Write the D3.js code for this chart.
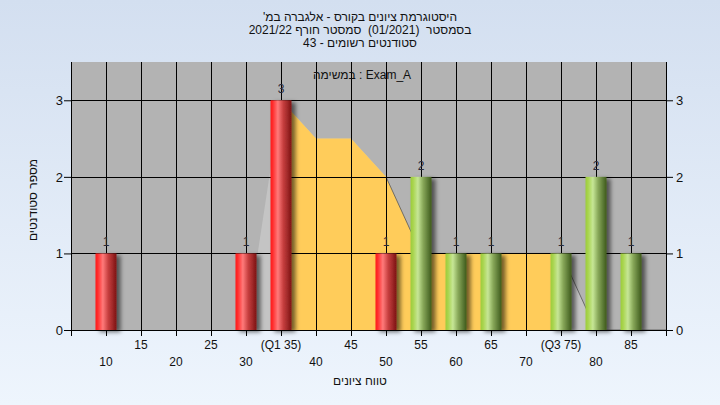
<!DOCTYPE html>
<html><head><meta charset="utf-8">
<script src="https://cdn.jsdelivr.net/npm/d3@7/dist/d3.min.js"></script>
<style>
body{margin:0;background:#e4edf8}
svg{display:block;font-family:"Liberation Sans",Arial,sans-serif}
</style>
</head><body>
<svg id="chart" width="720" height="405"></svg>
<script>
// ---- data ----
const titleLines = ["היסטוגרמת ציונים בקורס - אלגברה במ'", "בסמסטר  (01/2021)  סמסטר חורף 2021/22", "סטודנטים רשומים - 43"];
const legendText = "במשימה : Exam_A";
const xAxisTitle = "טווח ציונים";
const yAxisTitle = "מספר סטודנטים";
const binCenters = [10, 15, 20, 25, 30, 35, 40, 45, 50, 55, 60, 65, 70, 75, 80, 85];
const counts     = [1,  0,  0,  0,  1,  3,  0,  0,  1,  2,  1,  1,  0,  1,  2,  1];
const barGroups  = ["fail","fail","fail","fail","fail","fail","fail","fail","fail","pass","pass","pass","pass","pass","pass","pass"];
const areaX = [5, 10, 15, 20, 25, 30, 35, 40, 45, 50, 55, 60, 65, 70, 75, 80, 85, 90];
const areaY = [0, 0, 0, 0, 0, 0, 3, 2.5, 2.5, 2, 1, 1, 1, 1, 1, 0, 0, 0];
const q1 = 35, q3 = 75;
const tickValues = [5, 10, 15, 20, 25, 30, 35, 40, 45, 50, 55, 60, 65, 70, 75, 80, 85, 90];
const tickLabels = ["", "10", "15", "20", "25", "30", "(Q1 35)", "40", "45", "50", "55", "60", "65", "70", "(Q3 75)", "80", "85", ""];
const yTicks = [0, 1, 2, 3];

// ---- layout ----
const svg = d3.select("#chart");
const L = 71, R = 666, T = 62, B = 330;
const x = d3.scaleLinear().domain([5, 90]).range([L, R]);
const y = d3.scaleLinear().domain([0, 3.5]).range([B, T]);

const defs = svg.append("defs");
const bg = defs.append("linearGradient").attr("id","bg").attr("x1",0).attr("y1",0).attr("x2",0).attr("y2",1);
bg.append("stop").attr("offset",0).attr("stop-color","#d3dff0");
bg.append("stop").attr("offset",1).attr("stop-color","#eef5fd");
function cyl(id, stops){
  const g = defs.append("linearGradient").attr("id",id).attr("x1",0).attr("y1",0).attr("x2",1).attr("y2",0);
  stops.forEach(s=>g.append("stop").attr("offset",s[0]).attr("stop-color",s[1]));
}
cyl("fail", [[0,"#ff1c1c"],[0.12,"#ff3030"],[0.35,"#ff7a7a"],[0.6,"#c84040"],[1,"#7c1414"]]);
cyl("pass", [[0,"#9ccc3c"],[0.12,"#a8d44c"],[0.35,"#c6e696"],[0.6,"#88a85a"],[1,"#3e5a1c"]]);
const f = defs.append("filter").attr("id","sh").attr("x","-30%").attr("y","-10%").attr("width","180%").attr("height","130%");
f.append("feDropShadow").attr("dx",4).attr("dy",2).attr("stdDeviation",2).attr("flood-color","#000").attr("flood-opacity",0.55);
defs.append("clipPath").attr("id","iqr").append("rect")
  .attr("x", x(q1)).attr("y", T).attr("width", x(q3)-x(q1)).attr("height", B-T);
defs.append("clipPath").attr("id","plot").append("rect")
  .attr("x", L).attr("y", T).attr("width", R-L).attr("height", B-T+3);
defs.append("clipPath").attr("id","upper").append("rect")
  .attr("x", x(50)).attr("y", T).attr("width", R-x(50)).attr("height", B-T+3);

svg.append("rect").attr("width",720).attr("height",405).attr("fill","url(#bg)");
svg.append("rect").attr("x",L).attr("y",T).attr("width",R-L).attr("height",B-T).attr("fill","#b3b3b3");

// area (frequency polygon)
const pts = areaX.map((v,i)=>[v, areaY[i]]);
const area = d3.area().x(d=>x(d[0])).y0(y(0)).y1(d=>y(d[1]));
const line = d3.line().x(d=>x(d[0])).y(d=>y(d[1]));
const ag = svg.append("g").attr("clip-path","url(#plot)");
ag.append("path").attr("d", area(pts)).attr("fill","#c4c4c4");
ag.append("path").attr("d", area(pts)).attr("fill","#ffcc5a").attr("clip-path","url(#iqr)");
ag.append("g").attr("clip-path","url(#upper)").append("path").attr("d", line(pts))
  .attr("fill","none").attr("stroke","#555").attr("stroke-width",0.8);

// grid
const grid = svg.append("g").attr("stroke","#000").attr("stroke-width",1);
tickValues.forEach(v=>{
  grid.append("line").attr("x1",Math.round(x(v))+0.5).attr("x2",Math.round(x(v))+0.5).attr("y1",T).attr("y2",B);
});
yTicks.filter(v=>v>0).forEach(v=>{
  grid.append("line").attr("x1",L).attr("x2",R).attr("y1",Math.round(y(v))+0.5).attr("y2",Math.round(y(v))+0.5);
});

// bars
const bw = (x(10)-x(5))*0.6;
const data = binCenters.map((c,i)=>({c, n:counts[i], g:barGroups[i]})).filter(d=>d.n>0);
svg.append("g").selectAll("rect").data(data).join("rect")
  .attr("x", d=>x(d.c)-bw/2).attr("y", d=>y(d.n)).attr("width", bw).attr("height", d=>y(0)-y(d.n))
  .attr("fill", d=>`url(#${d.g})`).attr("filter","url(#sh)");
svg.append("g").selectAll("text").data(data).join("text")
  .attr("x", d=>x(d.c)).attr("y", d=>y(d.n)-7).attr("text-anchor","middle")
  .attr("font-size",12).attr("fill","#2a2a3a").text(d=>d.n);

// axes
const xAxis = d3.axisBottom(x).tickValues(tickValues).tickSize(6).tickFormat("");
const gx = svg.append("g").attr("transform",`translate(0,${B})`).call(xAxis);
gx.select(".domain").attr("stroke","#000");
gx.selectAll("line").attr("stroke","#000");
const xl = svg.append("g").attr("font-size",12).attr("fill","#111").attr("text-anchor","middle");
tickValues.forEach((v,i)=>{
  if(!tickLabels[i]) return;
  const row = (v/5)%2===1 ? 0 : 1;
  xl.append("text").attr("x",x(v)).attr("y", row===0 ? 349 : 366).text(tickLabels[i]);
});

const yl = d3.axisLeft(y).tickValues(yTicks).tickSize(7).tickFormat(d3.format("d"));
const gyl = svg.append("g").attr("transform",`translate(${L},0)`).call(yl);
const yr = d3.axisRight(y).tickValues(yTicks).tickSize(7).tickFormat(d3.format("d"));
const gyr = svg.append("g").attr("transform",`translate(${R},0)`).call(yr);
[gyl, gyr].forEach(g=>{
  g.select(".domain").attr("stroke","#000").attr("d", `M0.5,${T}V${B}`);
  g.selectAll("line").attr("stroke","#000");
  g.selectAll("text").attr("font-size",13).attr("fill","#111").attr("font-family","Liberation Sans, Arial, sans-serif");
});
gyl.selectAll("text").attr("x",-8);
gyr.selectAll("text").attr("x",10);

// titles
const tg = svg.append("g").attr("font-size",12).attr("fill","#111").attr("text-anchor","middle");
titleLines.forEach((t,i)=>tg.append("text").attr("x",360).attr("y",21+13*i)
  .attr("direction","rtl").style("white-space","pre").text(t));
svg.append("text").attr("x",362).attr("y",79).attr("text-anchor","middle").attr("font-size",12).attr("fill","#111").text(legendText);
svg.append("text").attr("x",360).attr("y",385).attr("text-anchor","middle").attr("font-size",12).attr("fill","#111").attr("direction","rtl").text(xAxisTitle);
svg.append("text").attr("transform","translate(37,200) rotate(-90)").attr("text-anchor","middle").attr("font-size",12).attr("fill","#111").attr("direction","rtl").text(yAxisTitle);
</script>
</body></html>
